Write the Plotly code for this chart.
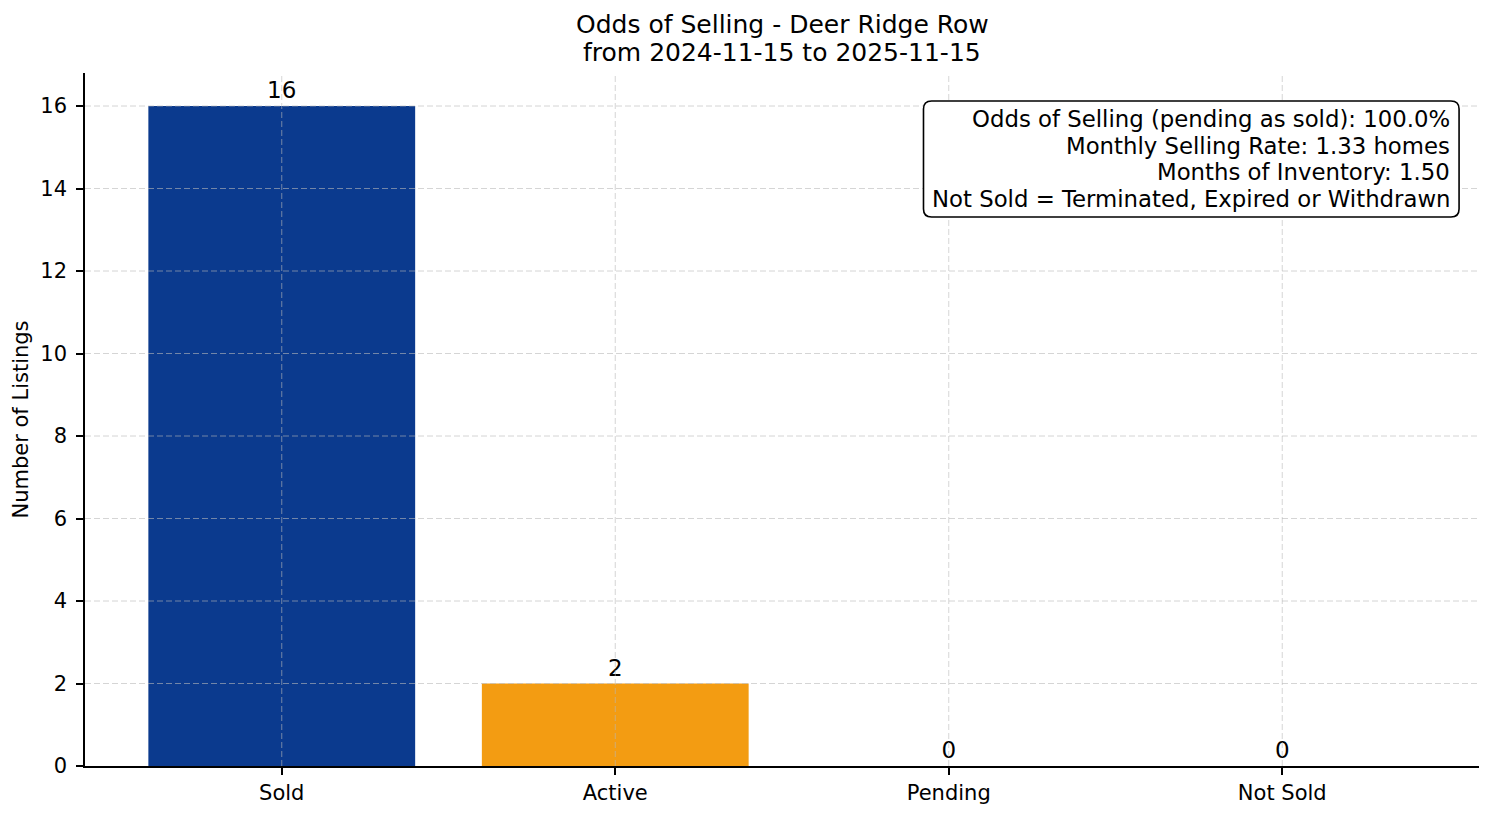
import plotly.graph_objects as go

# Data
categories = ["Sold", "Active", "Pending", "Not Sold"]
counts = [16, 2, 0, 0]
bar_colors = ["#0b3a8e", "#f39c12", "#2ca02c", "#d62728"]
y_ticks = [0, 2, 4, 6, 8, 10, 12, 14, 16]

title_lines = ["Odds of Selling - Deer Ridge Row", "from 2024-11-15 to 2025-11-15"]
info_lines = [
    "Odds of Selling (pending as sold): 100.0%",
    "Monthly Selling Rate: 1.33 homes",
    "Months of Inventory: 1.50",
    "Not Sold = Terminated, Expired or Withdrawn",
]

FONT = "DejaVu Sans"

fig = go.Figure()
fig.add_trace(go.Bar(
    x=categories, y=counts,
    marker=dict(color=bar_colors, line=dict(width=0)),
    width=0.8,
    text=[str(c) for c in counts], textposition="outside",
    textfont=dict(family=FONT, size=23, color="black"),
    cliponaxis=False, hoverinfo="skip",
))

# dashed grid drawn on top of the bars, like the original
grid = dict(color="rgba(185,185,185,0.6)", width=1, dash="6px,3px")
for v in y_ticks[1:]:
    fig.add_shape(type="line", xref="paper", yref="y", x0=0, x1=1, y0=v, y1=v,
                  line=grid, layer="above")
for c in categories:
    fig.add_shape(type="line", xref="x", yref="paper", x0=c, x1=c, y0=0, y1=1,
                  line=grid, layer="above")

# rounded info box (axes fraction)
bx0, bx1, by0, by1 = 0.6015, 0.9857, 0.7922, 0.9596
rx, ry = 0.0058, 0.0116
box_path = (
    f"M {bx0+rx},{by0} L {bx1-rx},{by0} Q {bx1},{by0} {bx1},{by0+ry} "
    f"L {bx1},{by1-ry} Q {bx1},{by1} {bx1-rx},{by1} "
    f"L {bx0+rx},{by1} Q {bx0},{by1} {bx0},{by1-ry} "
    f"L {bx0},{by0+ry} Q {bx0},{by0} {bx0+rx},{by0} Z"
)
fig.add_shape(type="path", xref="paper", yref="paper", path=box_path,
              fillcolor="white", line=dict(color="black", width=1.6), layer="above")

for i, line in enumerate(info_lines):
    fig.add_annotation(
        xref="paper", yref="paper", x=0.9805, y=0.9336 - i * 0.0385,
        xanchor="right", yanchor="middle", text=line, showarrow=False,
        font=dict(family=FONT, size=22.8, color="black"),
    )

for i, line in enumerate(title_lines):
    fig.add_annotation(
        xref="paper", yref="paper", x=0.5, y=1.0693 - i * 0.0404,
        xanchor="center", yanchor="middle", text=line, showarrow=False,
        font=dict(family=FONT, size=25, color="black"),
    )

fig.update_layout(
    width=1486, height=808,
    margin=dict(l=77, r=15, t=65, b=50, autoexpand=False),
    paper_bgcolor="white", plot_bgcolor="white",
    font=dict(family=FONT, size=21, color="black"),
    showlegend=False,
)
fig.update_xaxes(
    range=[-0.59, 3.59], showgrid=False, zeroline=False, automargin=False,
    showline=True, linecolor="black", linewidth=1.6,
    ticks="outside", ticklen=7, tickwidth=1.6, tickcolor="black",
    tickfont=dict(family=FONT, size=21, color="black"),
)
fig.update_yaxes(
    range=[0, 16.8], tickvals=y_ticks, showgrid=False, zeroline=False, automargin=False,
    showline=True, linecolor="black", linewidth=1.6,
    ticks="outside", ticklen=7, tickwidth=1.6, tickcolor="black",
    ticklabelstandoff=5,
    tickfont=dict(family=FONT, size=21, color="black"),
    title=dict(text="Number of Listings", font=dict(family=FONT, size=21, color="black"),
               standoff=6),
)

fig.write_html("out.html")
